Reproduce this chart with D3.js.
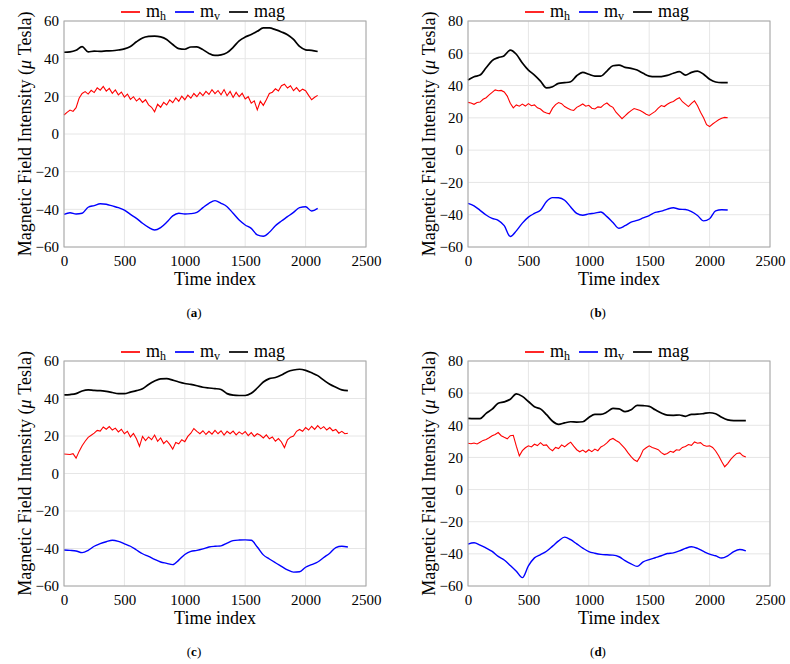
<!DOCTYPE html>
<html>
<head>
<meta charset="utf-8">
<script src="https://cdnjs.cloudflare.com/ajax/libs/d3/7.8.5/d3.min.js"></script>
<style>
  body { margin: 0; background: #fff; }
  svg, svg text { font-family: "Liberation Serif", "Times New Roman", Times, "DejaVu Serif", serif; }
</style>
</head>
<body>
<div id="chart"></div>
<script>
// sampling step (time index) of the series below
var stepFine = 25;   // m_h
var stepCoarse = 50; // m_v and mag

// ---- panel (a) ----
var a_mh = [10.1, 11.5, 12.7, 12.0, 14.0, 19.0, 21.5, 22.5, 21.2, 23.2,
    22.0, 24.5, 23.3, 25.3, 22.8, 24.2, 21.6, 23.4, 20.8, 22.3,
    19.6, 21.2, 18.4, 19.8, 17.5, 18.9, 16.8, 18.2, 15.5, 14.2,
    11.8, 15.8, 14.2, 16.8, 15.4, 18.1, 16.6, 19.2, 17.4, 20.1,
    18.2, 20.6, 19.0, 21.5, 19.8, 22.1, 20.4, 22.6, 21.0, 23.5,
    21.4, 23.1, 20.8, 23.6, 20.3, 22.6, 19.4, 22.1, 19.8, 21.6,
    18.6, 19.8, 16.4, 17.6, 12.8, 17.4, 15.2, 18.2, 21.5, 22.2,
    24.0, 22.8, 25.6, 26.4, 24.4, 25.6, 23.0, 24.6, 22.6, 23.8,
    23.0, 20.5, 18.2, 19.5, 20.5];
var a_mv = [-42.7, -41.8, -42.5, -42.1, -38.9, -38.0, -37.0, -37.3, -38.2, -39.1,
    -40.4, -42.7, -44.8, -47.4, -49.6, -51.0, -49.7, -46.9, -43.5, -42.1,
    -42.5, -42.3, -41.6, -39.1, -36.8, -35.4, -36.8, -38.6, -42.1, -45.7,
    -48.3, -50.1, -53.6, -54.3, -52.2, -48.7, -46.2, -43.9, -41.6, -39.1,
    -38.6, -40.9, -39.5];
var a_mag = [43.4, 43.6, 44.5, 46.4, 43.6, 44.0, 43.9, 44.1, 44.2, 44.6,
    45.2, 46.5, 49.0, 51.0, 51.8, 52.0, 51.6, 50.2, 47.5, 45.3,
    45.0, 46.2, 46.3, 44.8, 42.8, 41.7, 42.0, 43.2, 46.0, 49.5,
    51.5, 52.8, 54.5, 56.3, 56.3, 55.4, 54.2, 52.7, 50.2, 46.5,
    44.7, 44.4, 43.8];

// ---- panel (b) ----
var b_mh = [29.6, 29.2, 28.4, 29.5, 29.8, 31.5, 32.5, 34.2, 35.8, 37.3,
    36.8, 37.0, 36.0, 33.5, 29.0, 26.2, 28.0, 27.2, 28.5, 27.3,
    28.8, 27.5, 28.0, 26.2, 25.5, 23.8, 23.0, 22.5, 26.0, 28.2,
    29.5, 28.8, 27.0, 26.0, 25.0, 24.6, 26.5, 27.5, 28.6, 27.2,
    27.8, 26.0, 25.5, 26.8, 26.5, 28.2, 29.2, 27.5, 26.5, 23.5,
    21.5, 19.5, 21.2, 23.0, 24.5, 25.8, 25.2, 24.5, 23.5, 22.2,
    21.5, 22.8, 24.0, 26.0, 27.6, 27.0, 28.4, 29.5, 30.2, 31.5,
    32.5, 30.0, 28.5, 27.0, 29.0, 30.5, 27.5, 23.5, 20.0, 15.8,
    14.6, 16.2, 17.5, 18.8, 19.7, 20.3, 20.1];
var b_mv = [-33.0, -34.5, -37.3, -40.2, -42.3, -43.5, -46.8, -53.5, -50.0, -45.2,
    -41.5, -39.2, -37.2, -31.8, -29.4, -29.5, -31.0, -35.2, -39.2, -40.3,
    -39.5, -39.0, -38.3, -41.2, -44.8, -48.4, -46.8, -44.6, -43.5, -42.0,
    -40.5, -38.6, -37.8, -36.5, -35.7, -36.6, -36.8, -38.1, -40.5, -43.8,
    -42.5, -37.6, -36.9, -37.1];
var b_mag = [43.5, 45.5, 46.5, 51.0, 55.5, 57.3, 58.5, 62.0, 59.4, 54.0,
    49.6, 46.5, 42.8, 38.6, 39.3, 41.4, 41.8, 42.4, 46.1, 48.2,
    47.0, 45.9, 45.9, 49.0, 52.3, 52.7, 51.3, 50.7, 49.6, 47.6,
    45.9, 45.5, 45.6, 46.3, 47.6, 48.6, 46.5, 48.2, 49.0, 47.0,
    43.9, 42.2, 41.8, 41.8];

// ---- panel (c) ----
var c_mh = [10.4, 10.3, 10.1, 10.6, 8.2, 11.8, 14.8, 17.2, 19.3, 20.4,
    21.5, 23.0, 22.6, 24.8, 23.6, 25.0, 23.2, 24.2, 22.2, 23.6,
    21.2, 22.5, 19.5, 21.4, 18.5, 14.5, 19.8, 17.5, 19.5, 18.0,
    20.5, 17.2, 19.0, 16.0, 17.5, 15.5, 13.0, 16.5, 15.8, 18.0,
    17.0, 19.8, 21.5, 24.0, 22.5, 21.2, 22.8, 20.8, 22.5, 21.0,
    23.0, 21.2, 22.8, 20.5, 22.5, 21.2, 22.6, 20.6, 22.2, 21.0,
    22.4, 20.2, 21.8, 19.8, 21.2, 20.4, 19.0, 20.6, 18.5, 19.5,
    17.2, 18.6, 16.8, 13.8, 18.0, 19.4, 20.0, 22.5, 23.5, 22.5,
    24.5, 23.2, 25.2, 23.5, 25.5, 23.8, 25.0, 23.2, 24.5, 22.8,
    23.5, 21.5, 22.5, 21.2, 21.5];
var c_mv = [-40.8, -41.0, -41.3, -42.2, -41.0, -38.8, -37.4, -36.4, -35.6, -36.2,
    -37.5, -38.8, -40.8, -42.8, -44.2, -45.8, -47.2, -47.9, -48.6, -46.2,
    -43.2, -41.5, -41.0, -40.2, -39.2, -38.8, -38.6, -37.1, -35.8, -35.5,
    -35.4, -35.6, -39.2, -43.4, -45.6, -47.6, -49.5, -51.4, -52.6, -52.4,
    -50.0, -48.6, -47.2, -44.8, -42.5, -39.5, -38.8, -39.2];
var c_mag = [41.9, 42.1, 42.6, 44.0, 44.6, 44.3, 44.2, 43.8, 43.2, 42.6,
    42.6, 43.4, 44.2, 45.2, 47.5, 49.3, 50.5, 50.6, 49.8, 48.8,
    48.0, 47.5, 46.8, 46.0, 45.6, 45.3, 44.8, 42.6, 41.8, 41.6,
    41.6, 42.8, 45.6, 48.8, 50.6, 51.2, 52.5, 54.3, 55.2, 55.6,
    55.0, 53.7, 52.2, 49.8, 47.6, 46.0, 44.6, 44.2];

// ---- panel (d) ----
var d_mh = [28.8, 28.5, 29.0, 28.4, 29.5, 30.6, 31.2, 32.2, 33.5, 34.3,
    35.5, 33.5, 32.5, 31.6, 33.5, 33.8, 27.0, 21.0, 24.2, 26.0,
    27.2, 26.5, 28.2, 27.4, 29.2, 27.5, 27.8, 25.5, 24.2, 26.2,
    25.5, 27.8, 26.6, 28.2, 29.5, 27.0, 24.8, 23.5, 24.6, 23.2,
    24.8, 23.6, 25.2, 24.2, 26.5, 27.5, 29.0, 31.0, 31.8, 30.5,
    29.5, 27.5, 25.5, 22.8, 20.5, 18.5, 17.5, 20.5, 24.6, 26.0,
    27.2, 26.2, 25.5, 24.8, 23.0, 21.8, 22.5, 23.8, 23.2, 24.8,
    24.5, 26.2, 26.8, 28.0, 27.5, 29.6, 28.8, 29.2, 27.5, 27.0,
    27.2, 26.2, 24.0, 21.0, 17.5, 14.2, 16.2, 18.8, 20.8, 22.5,
    22.8, 21.0, 20.2];
var d_mv = [-33.9, -33.1, -34.5, -36.4, -38.5, -41.6, -43.8, -47.2, -50.8, -54.8,
    -47.5, -42.5, -40.5, -38.4, -35.2, -31.9, -29.6, -31.2, -33.8, -36.4,
    -38.6, -39.6, -40.3, -40.6, -40.8, -41.8, -44.2, -46.2, -47.8, -45.0,
    -43.6, -42.4, -41.2, -39.8, -39.4, -38.2, -36.6, -35.6, -36.6, -38.5,
    -40.2, -41.2, -42.6, -41.2, -38.6, -37.3, -38.2];
var d_mag = [44.3, 44.1, 44.2, 47.4, 50.0, 53.7, 54.6, 56.2, 59.6, 58.0,
    54.8, 51.5, 50.2, 46.6, 42.5, 40.6, 41.5, 42.2, 42.0, 42.2,
    44.9, 46.8, 46.8, 48.2, 50.5, 50.2, 48.5, 49.6, 52.4, 52.2,
    51.8, 49.6, 47.6, 46.3, 46.2, 46.4, 45.6, 46.8, 46.9, 47.3,
    47.8, 47.2, 45.0, 43.4, 42.9, 42.9, 42.9];

// axes ticks and labels
var xTicks = [0, 500, 1000, 1500, 2000, 2500];
var yTicksSmall = [-60, -40, -20, 0, 20, 40, 60];
var yTicksLarge = [-60, -40, -20, 0, 20, 40, 60, 80];
var legendItems = [
    { base: "m", sub: "h", color: "#ff0000" },
    { base: "m", sub: "v", color: "#0000ff" },
    { base: "mag", sub: "", color: "#000000" }
];
var captions = ["a", "b", "c", "d"];
var xLabel = "Time index";

var serif = "'Liberation Serif', 'Times New Roman', Times, 'DejaVu Serif', serif";

var panels = [
    { left: 64, top: 21, height: 226, yTicks: yTicksSmall, mh: a_mh, mv: a_mv, mag: a_mag, cap: captions[0] },
    { left: 468, top: 21, height: 226, yTicks: yTicksLarge, mh: b_mh, mv: b_mv, mag: b_mag, cap: captions[1] },
    { left: 64, top: 361, height: 225, yTicks: yTicksSmall, mh: c_mh, mv: c_mv, mag: c_mag, cap: captions[2] },
    { left: 468, top: 361, height: 225, yTicks: yTicksLarge, mh: d_mh, mv: d_mv, mag: d_mag, cap: captions[3] }
];
var plotWidth = 302;

var svg = d3.select("#chart")
    .append("svg")
    .attr("width", 790)
    .attr("height", 664)
    .attr("font-family", serif);

panels.forEach(function(p) { drawPanel(p); });

function drawPanel(p) {
    var g = svg.append("g")
        .attr("transform", "translate(" + p.left + "," + p.top + ")");

    var x = d3.scaleLinear().domain([0, 2500]).range([0, plotWidth]);
    var y = d3.scaleLinear()
        .domain([p.yTicks[0], p.yTicks[p.yTicks.length - 1]])
        .range([p.height, 0]);

    // grid
    g.append("g")
        .selectAll("line")
        .data(xTicks)
        .enter().append("line")
        .attr("x1", function(d) { return x(d); })
        .attr("x2", function(d) { return x(d); })
        .attr("y1", 0).attr("y2", p.height)
        .attr("stroke", "#e6e6e6");
    g.append("g")
        .selectAll("line")
        .data(p.yTicks)
        .enter().append("line")
        .attr("y1", function(d) { return y(d); })
        .attr("y2", function(d) { return y(d); })
        .attr("x1", 0).attr("x2", plotWidth)
        .attr("stroke", "#e6e6e6");

    // axes (labels only, box drawn separately)
    var xAxis = g.append("g")
        .attr("transform", "translate(0," + p.height + ")")
        .call(d3.axisBottom(x).tickValues(xTicks).tickFormat(d3.format("d")).tickSize(0).tickPadding(8));
    var yAxis = g.append("g")
        .call(d3.axisLeft(y).tickValues(p.yTicks).tickFormat(d3.format("d")).tickSize(0).tickPadding(5));
    [xAxis, yAxis].forEach(function(ax) {
        ax.attr("font-family", serif).attr("font-size", 15);
        ax.select(".domain").remove();
        ax.selectAll("text").attr("fill", "#000");
    });

    // lines
    var lineFine = d3.line()
        .x(function(d, i) { return x(i * stepFine); })
        .y(function(d) { return y(d); });
    var lineCoarse = d3.line()
        .curve(d3.curveMonotoneX)
        .x(function(d, i) { return x(i * stepCoarse); })
        .y(function(d) { return y(d); });

    g.append("path").datum(p.mag)
        .attr("d", lineCoarse)
        .attr("fill", "none").attr("stroke", "#000").attr("stroke-width", 1.7);
    g.append("path").datum(p.mh)
        .attr("d", lineFine)
        .attr("fill", "none").attr("stroke", "#ff0000").attr("stroke-width", 1.1);
    g.append("path").datum(p.mv)
        .attr("d", lineCoarse)
        .attr("fill", "none").attr("stroke", "#0000ff").attr("stroke-width", 1.4);

    // box
    g.append("rect")
        .attr("width", plotWidth).attr("height", p.height)
        .attr("fill", "none").attr("stroke", "#a6a6a6").attr("stroke-width", 1);

    // x label
    g.append("text")
        .attr("x", plotWidth / 2)
        .attr("y", p.height + 38)
        .attr("text-anchor", "middle")
        .attr("font-size", 18)
        .text(xLabel);

    // y label
    var yl = g.append("text")
        .attr("transform", "rotate(-90)")
        .attr("x", -p.height / 2)
        .attr("y", -33)
        .attr("text-anchor", "middle")
        .attr("font-size", 18);
    yl.append("tspan").text("Magnetic Field Intensity (");
    yl.append("tspan").attr("font-style", "italic").text("\u03bc");
    yl.append("tspan").text(" Tesla)");

    // caption
    var cap = g.append("text")
        .attr("x", 130)
        .attr("y", p.height + 70)
        .attr("text-anchor", "middle")
        .attr("font-size", 13);
    cap.append("tspan").text("(");
    cap.append("tspan").attr("font-weight", "bold").text(p.cap);
    cap.append("tspan").text(")");

    // legend
    var lg = g.append("g").attr("transform", "translate(57," + (-4) + ")");
    var cx = 0;
    legendItems.forEach(function(item) {
        lg.append("line")
            .attr("x1", cx).attr("x2", cx + 19)
            .attr("y1", -5).attr("y2", -5)
            .attr("stroke", item.color).attr("stroke-width", 1.7);
        cx += 25;
        var t = lg.append("text").attr("x", cx).attr("y", 0).attr("font-size", 18);
        t.append("tspan").text(item.base);
        if (item.sub) {
            t.append("tspan").attr("font-size", 12).attr("dy", 3).text(item.sub);
        }
        cx += t.node().getComputedTextLength() + 9;
    });
}
</script>
</body>
</html>
